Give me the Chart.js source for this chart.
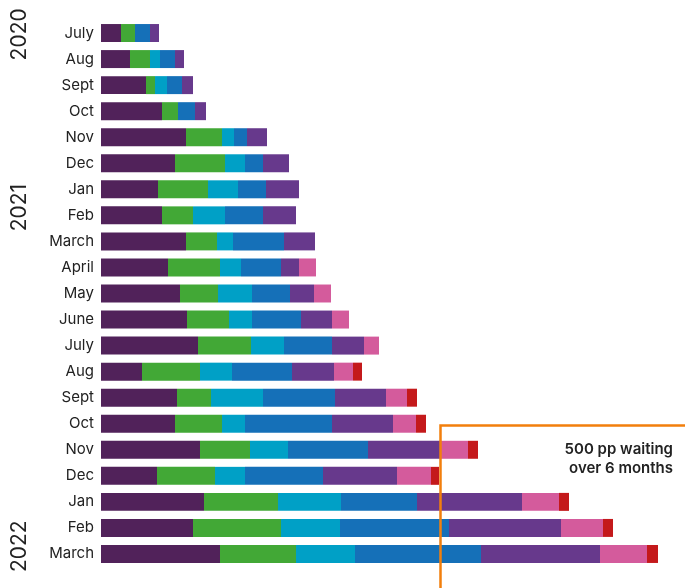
<!DOCTYPE html>
<html>
<head>
<meta charset="utf-8">
<script src="https://cdn.jsdelivr.net/npm/chart.js@4"></script>
<style>
  html, body { margin: 0; padding: 0; background: #fff; }
  #wrap { position: relative; width: 685px; height: 588px; }
</style>
</head>
<body>
<div id="wrap"><canvas id="waitChart" width="685" height="588"></canvas></div>
<script>
const months = ['July', 'Aug', 'Sept', 'Oct', 'Nov', 'Dec', 'Jan', 'Feb', 'March', 'April', 'May', 'June',
  'July', 'Aug', 'Sept', 'Oct', 'Nov', 'Dec', 'Jan', 'Feb', 'March'];

// waiting list bands, shortest wait first
const band1 = [20, 29, 45, 61, 85, 74, 57, 61, 85, 67, 79, 86, 97, 41, 76, 74, 99, 56, 103, 92, 119];
const band2 = [14, 20, 9, 16, 36, 50, 50, 31, 31, 52, 38, 42, 53, 58, 34, 47, 50, 58, 74, 88, 76];
const band3 = [0, 10, 12, 0, 12, 20, 30, 32, 16, 21, 34, 23, 33, 32, 52, 23, 38, 30, 63, 59, 59];
const band4 = [15, 15, 15, 17, 13, 18, 28, 38, 51, 40, 38, 49, 48, 60, 72, 87, 80, 78, 76, 109, 126];
const band5 = [9, 9, 11, 11, 20, 26, 33, 33, 31, 18, 24, 31, 32, 42, 51, 61, 72, 74, 105, 112, 119];
const band6 = [0, 0, 0, 0, 0, 0, 0, 0, 0, 17, 17, 17, 15, 19, 21, 23, 28, 34, 37, 42, 47];
const band7 = [0, 0, 0, 0, 0, 0, 0, 0, 0, 0, 0, 0, 0, 9, 10, 10, 10, 8, 10, 10, 11];

const bandColors = ['#51225a', '#42a836', '#00a0c6', '#1570b8', '#67398c', '#d45b9c', '#c4191b'];

// year markers: label and (fractional) row index they sit against
const years = ['2020', '2021', '2022'];
const yearRows = [0.05, 6.7, 19.7];

// highlighted region: starts at this value, from this row down
const boxStart = 339;
const boxRow = 15.06;
const boxText = ['500 pp waiting', 'over 6 months'];

const FONT = 'Inter, "Noto Sans", sans-serif';

const extras = {
  id: 'extras',
  afterDraw(chart) {
    const { ctx, scales: { x, y } } = chart;
    ctx.save();
    // rotated year labels
    ctx.fillStyle = '#222';
    ctx.font = '21px ' + FONT;
    ctx.textAlign = 'center';
    ctx.textBaseline = 'middle';
    years.forEach((yr, i) => {
      ctx.save();
      ctx.translate(20, y.getPixelForValue(yearRows[i]));
      ctx.rotate(-Math.PI / 2);
      ctx.fillText(yr, 0, 0);
      ctx.restore();
    });
    // orange box
    const left = Math.round(x.getPixelForValue(boxStart)) + 0.5;
    const top = Math.round(y.getPixelForValue(boxRow)) + 0.5;
    ctx.strokeStyle = '#f27f0c';
    ctx.lineWidth = 2.5;
    ctx.strokeRect(left, top, chart.width, chart.height);
    ctx.font = '600 15px ' + FONT;
    ctx.textAlign = 'right';
    ctx.fillStyle = '#222';
    ctx.fillText(boxText[0], 673, top + 24);
    ctx.fillText(boxText[1], 673, top + 43);
    ctx.restore();
  }
};

const datasets = [band1, band2, band3, band4, band5, band6, band7].map((d, i) => ({
  data: d,
  backgroundColor: bandColors[i],
  borderWidth: 0,
  categoryPercentage: 1,
  barPercentage: 0.69
}));

new Chart(document.getElementById('waitChart'), {
  type: 'bar',
  data: { labels: months, datasets },
  options: {
    indexAxis: 'y',
    responsive: false,
    animation: false,
    layout: { padding: { top: 20, bottom: 21, right: 0, left: 0 } },
    plugins: { legend: { display: false }, tooltip: { enabled: false } },
    scales: {
      x: {
        stacked: true,
        min: 0,
        max: 584,
        display: false
      },
      y: {
        stacked: true,
        grid: { display: false, drawTicks: false },
        border: { display: false },
        afterFit(scale) { scale.width = 101; },
        ticks: {
          color: '#222',
          padding: 7,
          font: { family: FONT, size: 15 }
        }
      }
    }
  },
  plugins: [extras]
});
</script>
</body>
</html>
